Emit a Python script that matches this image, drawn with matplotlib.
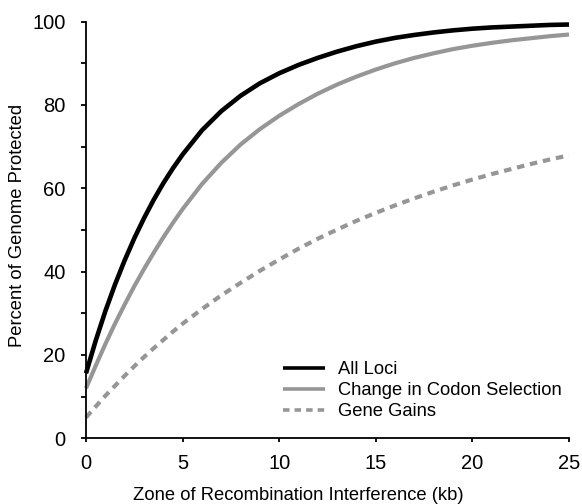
import matplotlib
matplotlib.use("Agg")
import matplotlib.pyplot as plt
from matplotlib.ticker import MultipleLocator

plt.rcParams['font.family'] = ['Liberation Sans', 'DejaVu Sans']

# Zone size (kb)
zone_kb = [0, 0.5, 1, 1.5, 2, 2.5, 3, 3.5, 4, 4.5, 5, 6, 7, 8, 9,
           10, 11, 12, 13, 14, 15, 16, 17, 18, 19, 20, 21, 22, 23, 24, 25]

all_loci = [15.6, 23.4, 30.5, 36.9, 42.7, 48.0, 52.8, 57.2, 61.2, 64.8, 68.1,
            73.9, 78.5, 82.2, 85.2, 87.6, 89.6, 91.3, 92.8, 94.1, 95.2,
            96.1, 96.8, 97.4, 97.9, 98.3, 98.6, 98.8, 99.0, 99.2, 99.3]

codon_selection = [12.0, 17.4, 22.6, 27.5, 32.1, 36.5, 40.6, 44.5, 48.2, 51.7, 55.0,
                   61.0, 66.1, 70.5, 74.2, 77.4, 80.2, 82.7, 84.9, 86.8, 88.5,
                   90.0, 91.3, 92.4, 93.4, 94.2, 94.9, 95.5, 96.0, 96.5, 96.9]

gene_gains = [5.0, 7.6, 10.2, 12.6, 15.0, 17.3, 19.5, 21.6, 23.6, 25.6, 27.5,
              31.0, 34.3, 37.3, 40.2, 42.9, 45.5, 47.9, 50.1, 52.2, 54.1,
              55.9, 57.6, 59.2, 60.7, 62.1, 63.4, 64.6, 65.8, 66.9, 67.9]

series_labels = ["All Loci", "Change in Codon Selection", "Gene Gains"]
x_ticks = [0, 5, 10, 15, 20, 25]
y_ticks = [0, 20, 40, 60, 80, 100]

gray = "#969696"

fig = plt.figure(figsize=(5.82, 5.04), dpi=100)
ax = fig.add_axes([86 / 582, 1 - 438.3 / 504, (569 - 86) / 582, (438.3 - 21.6) / 504])

ax.plot(zone_kb, all_loci, color="black", lw=3.3, label=series_labels[0],
        clip_on=False, solid_capstyle="butt")
ax.plot(zone_kb, codon_selection, color=gray, lw=3.0, label=series_labels[1],
        clip_on=False, solid_capstyle="butt")
ax.plot(zone_kb, gene_gains, color=gray, lw=3.0, label=series_labels[2],
        linestyle=(0, (1.8, 1.4)), clip_on=False)

ax.set_xlim(0, 25)
ax.set_ylim(0, 100)
ax.set_xticks(x_ticks)
ax.set_yticks(y_ticks)
ax.yaxis.set_minor_locator(MultipleLocator(10))

for side in ("top", "right"):
    ax.spines[side].set_visible(False)
for side in ("left", "bottom"):
    ax.spines[side].set_linewidth(1.3)

ax.tick_params(axis="both", which="both", direction="out", width=1.3, labelsize=14.5)
ax.tick_params(axis="y", which="major", length=3.8, pad=11)
ax.tick_params(axis="y", which="minor", length=3.8)
ax.tick_params(axis="x", which="major", length=3.2, pad=8)

ax.set_xlabel("Zone of Recombination Interference (kb)", fontsize=13.2)
ax.set_ylabel("Percent of Genome Protected", fontsize=13.2)
ax.xaxis.set_label_coords(0.44, -0.116)
ax.yaxis.set_label_coords(-0.125, 0.51)

leg = ax.legend(loc="lower right", bbox_to_anchor=(1.0, 0.026), frameon=False,
                fontsize=13.2, handlelength=2.3, handletextpad=0.7, labelspacing=0.22,
                borderaxespad=0.0)
for handle in leg.get_lines():
    handle.set_linewidth(2.6)

fig.savefig("out.png", dpi=100)
